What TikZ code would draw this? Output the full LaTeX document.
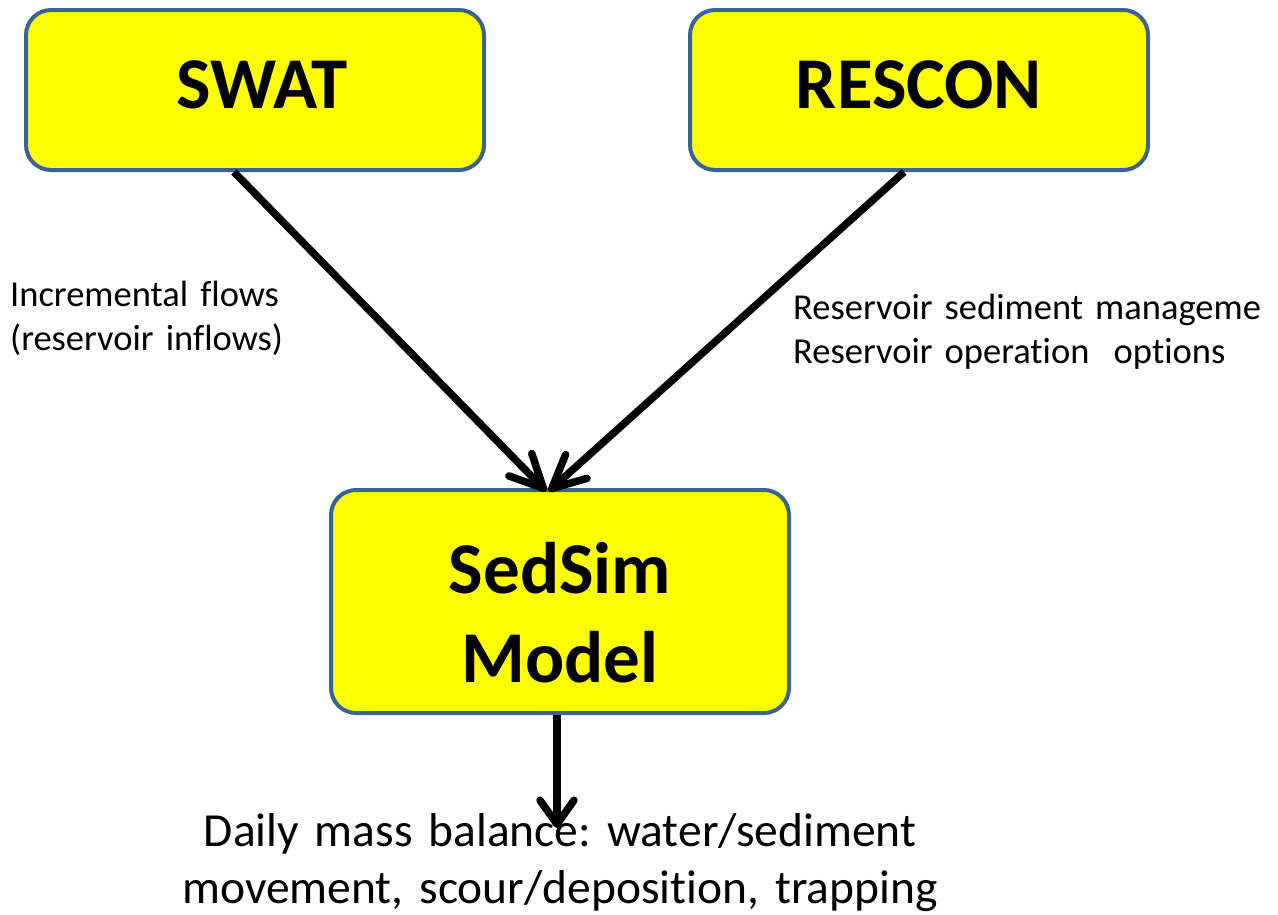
\documentclass[tikz,border=0pt]{standalone}
\usepackage{fontspec}
\setmainfont{Carlito}[Ligatures={NoCommon}]
\usetikzlibrary{arrows.meta}
\frenchspacing
\definecolor{boxborder}{RGB}{60,98,148}
\definecolor{boxfill}{RGB}{255,255,0}
\tikzset{
  modelbox/.style={draw=boxborder, fill=boxfill, line width=4pt, rounded corners=25pt,
    minimum width=458pt, inner sep=0pt, font=\bfseries\fontsize{73}{89}\selectfont},
  flow/.style={line width=7.5pt, -{Straight Barb[length=33pt, width=32pt, round]}},
  outflow/.style={line width=7.5pt, -{Straight Barb[length=24pt, width=34pt, round]}},
  lbl/.style={inner sep=0pt, font=\fontsize{36.5}{44.5}\selectfont, text width=520pt, align=left, anchor=base west},
  outlbl/.style={inner sep=0pt, font=\fontsize{47.5}{57}\selectfont, text width=800pt, align=center, anchor=base}
}
\begin{document}
\begin{tikzpicture}[x=1pt,y=-1pt]
\useasboundingbox (0,0) rectangle (1278,914);
\node[modelbox, minimum height=160pt, text height=45.5pt, text depth=9.5pt] (swat) at (255,90) {\hspace*{14pt}SWAT};
\node[modelbox, minimum height=160pt, text height=45.5pt, text depth=9.5pt] (rescon) at (919,90) {RESCON};
\node[modelbox, minimum height=223pt, text width=400pt, align=center, text height=50pt, text depth=67pt] (sedsim) at (560,601.5) {SedSim\\Model};
\coordinate (tipL) at (546,491);
\coordinate (tipR) at (549,491);
\draw[flow] ([xshift=-21pt]swat.south) -- (tipL);
\draw[flow] ([xshift=-15pt]rescon.south) -- (tipR);
\coordinate (outtip) at (557,828);
\draw[outflow] (sedsim.south -| outtip) -- (outtip);
\node[lbl] (inflowlbl) at (10,306) {Incremental flows\\(reservoir inflows)};
\node[lbl] (optlbl) at (793,319) {Reservoir sediment manageme\\Reservoir operation\ \ options};
\node[outlbl] (outlbl) at (560,846) {Daily mass balance: water/sediment\\movement, scour/deposition, trapping};
\end{tikzpicture}
\end{document}
